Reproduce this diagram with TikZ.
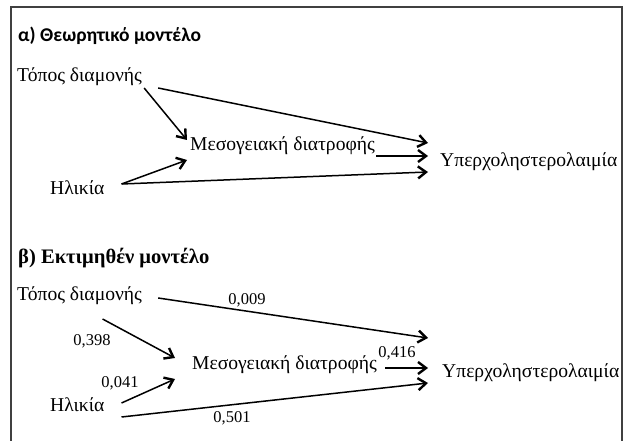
\documentclass[tikz,border=0pt]{standalone}
\usepackage{fontspec}
\setmainfont{Liberation Serif}
\newfontfamily\titlesans{Carlito}
\usetikzlibrary{arrows.meta,calc}

\begin{document}
\begin{tikzpicture}[x=1pt,y=-1pt,
	var/.style={anchor=base west, inner sep=0pt, font=\fontsize{19.6}{22}\selectfont},
	coef/.style={inner sep=0pt, font=\fontsize{16.5}{18}\selectfont},
	effect/.style={line width=1.5pt, -{Straight Barb[length=8pt,width=12pt,line width=2.4pt]}}]
	\useasboundingbox (0,0) rectangle (627,441);
	%% frame, open at the bottom
	\draw[line width=1.3pt, draw=black!75] (11,441) -- (11,7) -- (622,7) -- (622,441);
	
	%% a) theoretical model
	\node[anchor=base west, inner sep=0pt, font=\titlesans\bfseries\fontsize{19.5}{22}\selectfont] (titleA) at (18,42) {α) Θεωρητικό μοντέλο};
	\node[var] (topA) at (17,82) {Τόπος διαμονής};
	\node[var] (mesA) at (190,151) {Μεσογειακή διατροφής};
	\node[var] (ilikA) at (50,195) {Ηλικία};
	\node[var] (yperA) at (440,167) {Υπερχοληστερολαιμία};
	
	\draw[effect] ($(topA.base east)+(16,6)$) -- ($(yperA.base west)+(-12,-24)$);
	\draw[effect] ($(topA.base east)+(2,6)$) -- ($(mesA.base west)+(-3,-11)$);
	\draw[effect] ($(ilikA.base east)+(17,-11)$) -- ($(mesA.base west)+(-3,9)$);
	\draw[effect] ($(ilikA.base east)+(17,-11)$) -- ($(yperA.base west)+(-12,5)$);
	\draw[effect] ($(mesA.base east)+(1,5)$) -- ($(yperA.base west)+(-12,-11)$);
	
	%% b) estimated model
	\node[anchor=base west, inner sep=0pt, font=\bfseries\fontsize{20.6}{22}\selectfont] (titleB) at (18,263) {β) Εκτιμηθέν μοντέλο};
	\node[var] (topB) at (17,300) {Τόπος διαμονής};
	\node[var] (mesB) at (192,369) {Μεσογειακή διατροφής};
	\node[var] (ilikB) at (50,411) {Ηλικία};
	\node[var] (yperB) at (442,377) {Υπερχοληστερολαιμία};
	
	\draw[effect] ($(topB.base east)+(16,-2)$) -- ($(yperB.base west)+(-14,-39)$);
	\draw[effect] ($(topB.base)+(23,19)$) -- ($(mesB.base west)+(-17,-11)$);
	\draw[effect] ($(ilikB.base east)+(17,-8)$) -- ($(mesB.base west)+(-17,10)$);
	\draw[effect] ($(ilikB.base east)+(17,6)$) -- ($(yperB.base west)+(-14,6)$);
	\draw[effect] ($(mesB.base east)+(8,-1)$) -- ($(yperB.base west)+(-14,-9)$);
	
	%% path coefficients
	\node[coef] (c1) at (247,300) {0,009};
	\node[coef] (c2) at (92,341) {0,398};
	\node[coef] (c3) at (120,383) {0,041};
	\node[coef] (c4) at (232,418) {0,501};
	\node[coef] (c5) at (397,353) {0,416};
\end{tikzpicture}
\end{document}
